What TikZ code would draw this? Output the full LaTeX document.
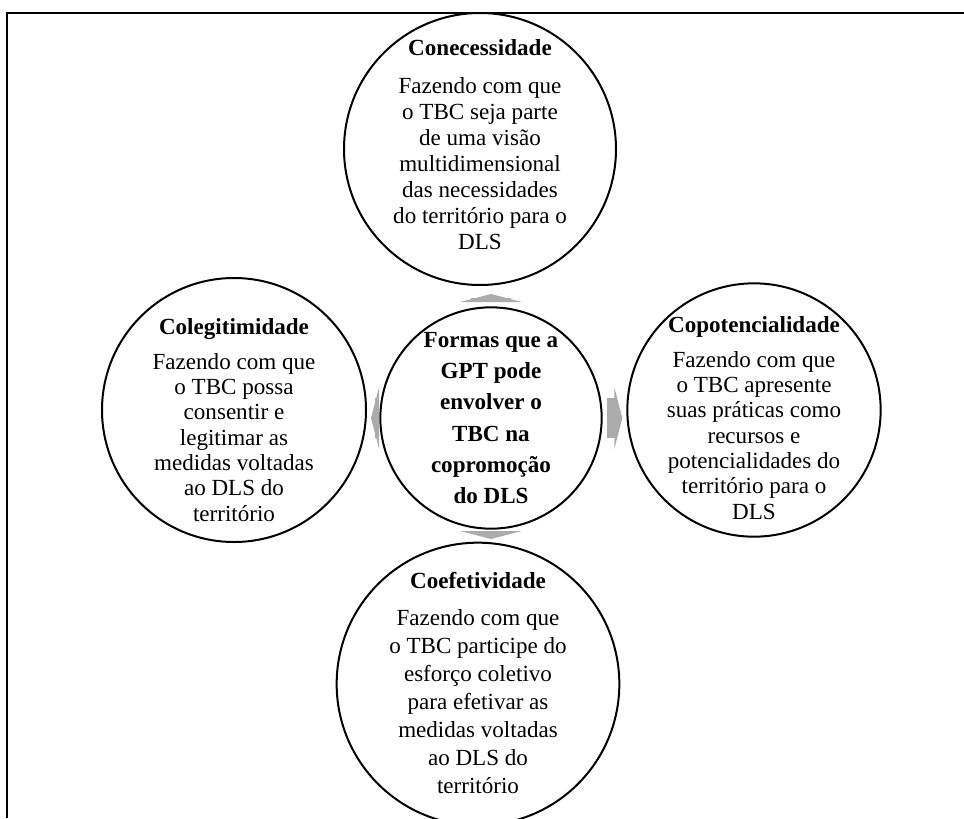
\documentclass[tikz,border=0pt]{standalone}
\usepackage{fontspec}
\setmainfont{Liberation Serif}
\usetikzlibrary{arrows.meta}
\definecolor{arrowgray}{RGB}{171,171,171}

\begin{document}
\begin{tikzpicture}[x=0.75pt,y=-0.75pt,
    bubble/.style={circle,draw,line width=1.5pt,inner sep=0pt},
    bubbletext/.style={align=center,inner sep=0pt,yshift=-6pt,font=\fontsize{17.3}{19}\selectfont},
    flow/.style={draw=arrowgray,line width=30pt,-{Triangle[width=46pt,length=6pt]}}]
    \useasboundingbox (0,0) rectangle (964,818);
    \clip (6,12) rectangle (964,818);
    % circles
    \node[bubble,minimum size=204pt] (up) at (480,149) {};
    \node[bubble,minimum size=198pt] (lf) at (234,410) {};
    \node[bubble,minimum size=190pt] (rt) at (754,410) {};
    \node[bubble,minimum size=166pt] (core) at (491,418) {};
    \node[bubble,minimum size=212pt] (dn) at (478,684) {};
    % texts
    \node[bubbletext,yshift=9pt,font=\fontsize{17.3}{19.5}\selectfont] (up-txt) at (up) {\textbf{Conecessidade}\\[9pt]Fazendo com que\\o TBC seja parte\\de uma visão\\multidimensional\\das necessidades\\do território para o\\DLS};
    \node[bubbletext,yshift=-1.5pt] (lf-txt) at (lf) {\textbf{Colegitimidade}\\[7pt]Fazendo com que\\o TBC possa\\consentir e\\legitimar as\\medidas voltadas\\ao DLS do\\território};
    \node[bubbletext] (rt-txt) at (rt) {\textbf{Copotencialidade}\\[7pt]Fazendo com que\\o TBC apresente\\suas práticas como\\recursos e\\potencialidades do\\território para o\\DLS};
    \node[bubbletext,yshift=6pt,font=\bfseries\fontsize{17.3}{23.5}\selectfont] (core-txt) at (core) {Formas que a\\GPT pode\\envolver o\\TBC na\\copromoção\\do DLS};
    \node[bubbletext,yshift=7pt,font=\fontsize{17.3}{21}\selectfont] (dn-txt) at (dn) {\textbf{Coefetividade}\\[7pt]Fazendo com que\\o TBC participe do\\esforço coletivo\\para efetivar as\\medidas voltadas\\ao DLS do\\território};
    % arrows
    \draw[flow,shorten <=6pt,shorten >=6pt] (core.north) -- (core.north |- up.south);
    \draw[flow,shorten <=3pt,shorten >=3pt] (core.east) -- (core.east -| rt.west);
    \draw[flow,shorten <=3pt,shorten >=3pt] (core.west) -- (core.west -| lf.east);
    \draw[flow,shorten <=2pt,shorten >=2pt] (core.south) -- (core.south |- dn.north);
    % frame
    \draw[line width=3pt] (964,12) -- (6,12) -- (6,818);
\end{tikzpicture}
\end{document}
